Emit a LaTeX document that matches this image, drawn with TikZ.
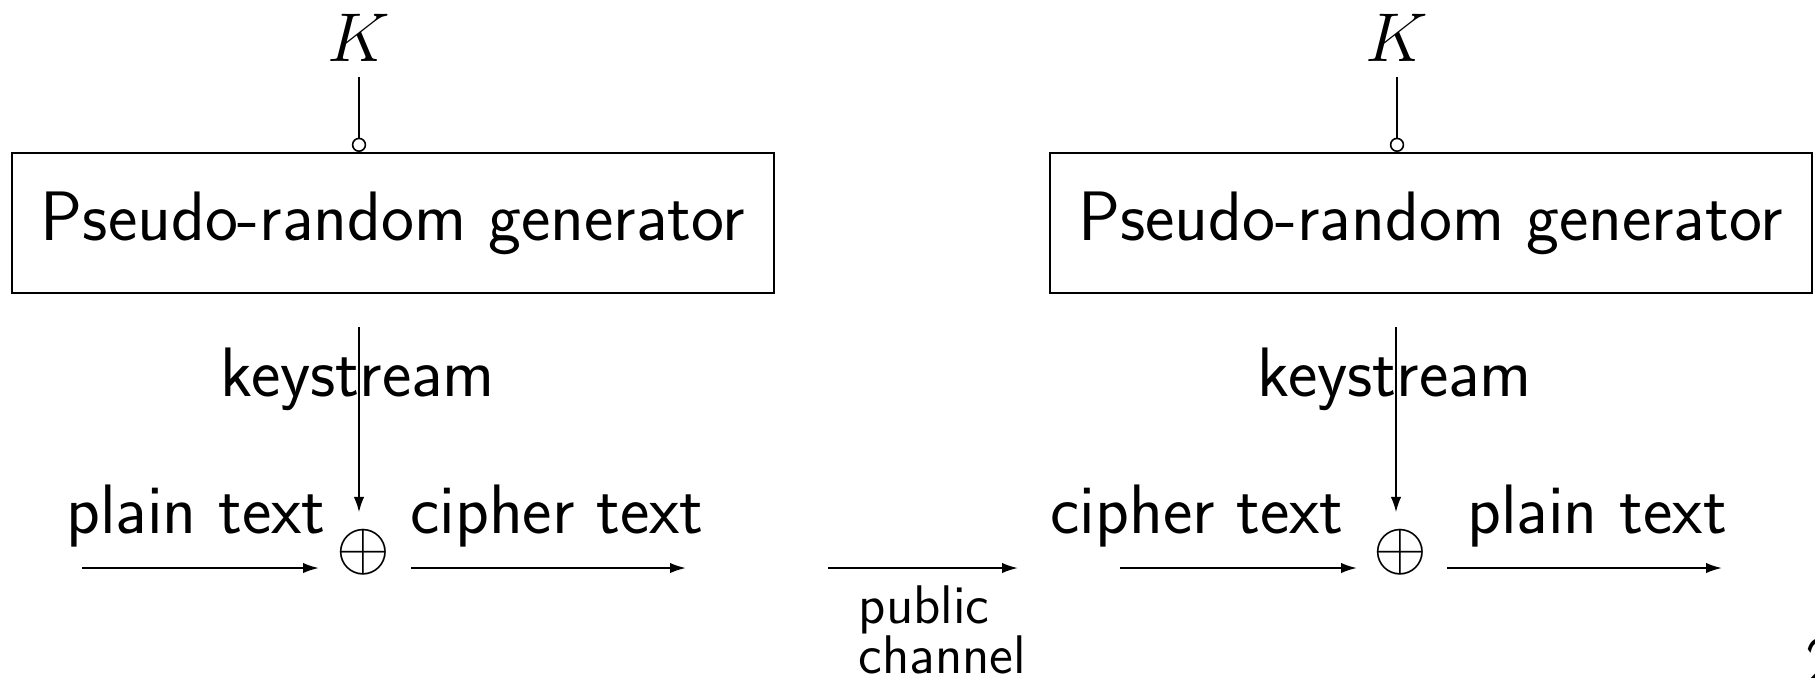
\documentclass[tikz,border=0pt]{standalone}
\usetikzlibrary{arrows.meta}
\begin{document}
\begin{tikzpicture}[x=0.25pt,y=-0.25pt,
  every node/.style={font=\fontsize{17.5}{21}\selectfont\sffamily},
  genbox/.style={draw, line width=0.5pt, inner sep=0pt,
    minimum width=190.5pt, minimum height=35pt},
  keynode/.style={inner sep=3.6pt},
  xornode/.style={inner sep=4pt},
  keyline/.style={line width=0.4pt, -{Circle[open,length=3.6pt,line width=0.4pt]}},
  ksarrow/.style={line width=0.4pt, -{Latex[length=3.8pt,width=2.6pt]}},
  flow/.style={line width=0.5pt, -{Latex[length=4pt,width=2.6pt]}},
  lbl/.style={anchor=base, inner sep=0pt},
  small/.style={font=\fontsize{13.6}{12.5}\selectfont\sffamily}]
\useasboundingbox (0,0) rectangle (1815,677);

% ---- sender side ----
\node[genbox] (genA) at (393,223) {Pseudo-random generator};
\node[keynode] (kA) at (359,38) {$K$};
\draw[keyline] (kA.south) -- (kA.south |- genA.north);
\coordinate (ksA) at (359,327);
\node[lbl] (ksAlbl) at (358,396) {keystream};
\node[xornode] (xorA) at (363,552) {$\oplus$};
\draw[ksarrow] (ksA) -- (ksA |- xorA.north);
\coordinate (pA0) at (82,568);  \coordinate (pA1) at (319,568);
\coordinate (cA0) at (411,568); \coordinate (cA1) at (686,568);
\draw[flow] (pA0) -- (pA1);
\draw[flow] (cA0) -- (cA1);
\node[lbl] (ptA) at (196,533) {plain text};
\node[lbl] (ctA) at (557,533) {cipher text};

% ---- public channel ----
\coordinate (ch0) at (828,568); \coordinate (ch1) at (1018,568);
\draw[flow] (ch0) -- (ch1);
\node[small, anchor=north west, inner sep=0pt, align=left] (chlbl) at (858,585) {public\\channel};

% ---- receiver side ----
\node[genbox] (genB) at (1430.5,223) {Pseudo-random generator};
\node[keynode] (kB) at (1397,38) {$K$};
\draw[keyline] (kB.south) -- (kB.south |- genB.north);
\coordinate (ksB) at (1396,327);
\node[lbl] (ksBlbl) at (1395,396) {keystream};
\node[xornode] (xorB) at (1400,552) {$\oplus$};
\draw[ksarrow] (ksB) -- (ksB |- xorB.north);
\coordinate (cB0) at (1120,568); \coordinate (cB1) at (1357,568);
\coordinate (pB0) at (1447,568); \coordinate (pB1) at (1722,568);
\draw[flow] (cB0) -- (cB1);
\draw[flow] (pB0) -- (pB1);
\node[lbl] (ctB) at (1197,533) {cipher text};
\node[lbl] (ptB) at (1597,533) {plain text};

% ---- page number ----
\node[anchor=north west, inner sep=0pt] (pagenum) at (1805,638) {2};
\end{tikzpicture}
\end{document}
